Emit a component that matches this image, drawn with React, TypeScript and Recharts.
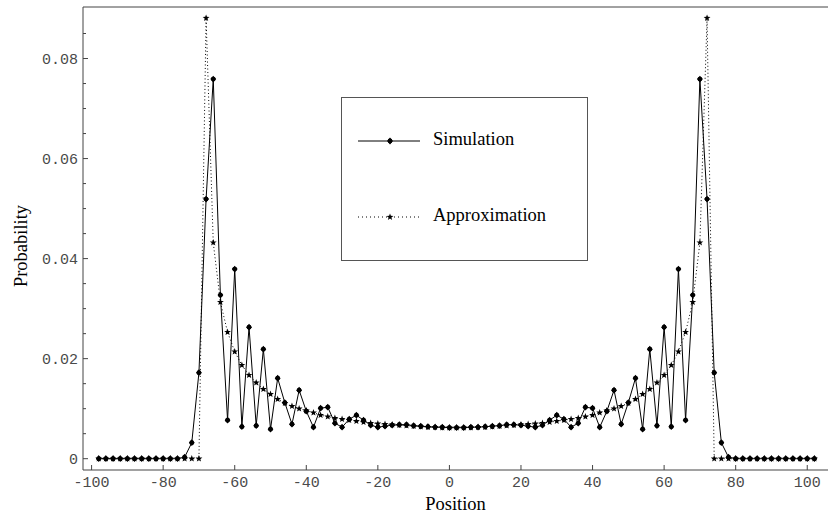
import React from 'react';
import { LineChart, Line, XAxis, YAxis, Legend, ReferenceLine } from 'recharts';

const positions = [
  -98, -96, -94, -92, -90, -88, -86, -84, -82, -80, -78, -76, -74, -72, -70, -68, -66, -64, -62, -60,
  -58, -56, -54, -52, -50, -48, -46, -44, -42, -40, -38, -36, -34, -32, -30, -28, -26, -24, -22, -20,
  -18, -16, -14, -12, -10, -8, -6, -4, -2, 0, 2, 4, 6, 8, 10, 12, 14, 16, 18, 20,
  22, 24, 26, 28, 30, 32, 34, 36, 38, 40, 42, 44, 46, 48, 50, 52, 54, 56, 58, 60,
  62, 64, 66, 68, 70, 72, 74, 76, 78, 80, 82, 84, 86, 88, 90, 92, 94, 96, 98, 100, 102,
];

const simulation = [
  0, 0, 0, 0, 0, 0, 0, 0, 0, 0, 0, 0,
  0.0003, 0.0032, 0.0172, 0.0519, 0.0759, 0.0327, 0.0077, 0.0379, 0.0064, 0.0263,
  0.0066, 0.0219, 0.0059, 0.0161, 0.0112, 0.0069, 0.0137, 0.0095, 0.0063, 0.0101,
  0.0103, 0.0071, 0.0063, 0.0079, 0.0087, 0.0077, 0.0067, 0.0063, 0.0065, 0.0067,
  0.0068, 0.0068, 0.0066, 0.0065, 0.0064, 0.0063, 0.0063, 0.0062, 0.0062,
  0.0062, 0.0063, 0.0063, 0.0064, 0.0065, 0.0066, 0.0068, 0.0068, 0.0067, 0.0065,
  0.0063, 0.0067, 0.0077, 0.0087, 0.0079, 0.0063, 0.0071, 0.0103, 0.0101, 0.0063,
  0.0095, 0.0137, 0.0069, 0.0112, 0.0161, 0.0059, 0.0219, 0.0066, 0.0263, 0.0064,
  0.0379, 0.0077, 0.0327, 0.0759, 0.0519, 0.0172, 0.0032, 0.0003,
  0, 0, 0, 0, 0, 0, 0, 0, 0, 0, 0, 0,
];

const approximation = [
  0, 0, 0, 0, 0, 0, 0, 0, 0, 0, 0, 0, 0, 0, 0,
  0.0881, 0.0432, 0.0313, 0.0253, 0.0214, 0.0187, 0.0167, 0.0152, 0.0139, 0.0129,
  0.0119, 0.0111, 0.0105, 0.01, 0.0096, 0.0092, 0.0087, 0.0084, 0.0081, 0.0079,
  0.0077, 0.0075, 0.0073, 0.0071, 0.007, 0.0069, 0.0068, 0.0067, 0.0066, 0.0065,
  0.0064, 0.0063, 0.0063, 0.0062, 0.0062, 0.0062,
  0.0062, 0.0062, 0.0063, 0.0063, 0.0064, 0.0065, 0.0066, 0.0067, 0.0068, 0.0069,
  0.007, 0.0071, 0.0073, 0.0075, 0.0077, 0.0079, 0.0081, 0.0084, 0.0087, 0.0092,
  0.0096, 0.01, 0.0105, 0.0111, 0.0119, 0.0129, 0.0139, 0.0152, 0.0167, 0.0187,
  0.0214, 0.0253, 0.0313, 0.0432, 0.0881,
  0, 0, 0, 0, 0, 0, 0, 0, 0, 0, 0, 0, 0, 0, 0,
];

const xTicks = [-100, -80, -60, -40, -20, 0, 20, 40, 60, 80, 100];
const yTicks = [0, 0.005, 0.01, 0.015, 0.02, 0.025, 0.03, 0.035, 0.04, 0.045, 0.05, 0.055, 0.06, 0.065, 0.07, 0.075, 0.08, 0.085];
const yMajorTicks = [0, 0.02, 0.04, 0.06, 0.08];
const xDomain: [number, number] = [-102.4, 105.8];
const yDomain: [number, number] = [-0.00226, 0.0903];

const data = positions.map((p, i) => ({ position: p, simulation: simulation[i], approximation: approximation[i] }));

const MONO = '"Liberation Mono", "Courier New", monospace';
const SERIF = '"Liberation Serif", "Times New Roman", serif';
const AXIS = '#444';
const LABEL = '#4a4a4a';

function starPath(cx: number, cy: number, R: number, r: number) {
  let d = '';
  for (let k = 0; k < 10; k++) {
    const rad = k % 2 === 0 ? R : r;
    const a = -Math.PI / 2 + (k * Math.PI) / 5;
    d += (k === 0 ? 'M' : 'L') + (cx + rad * Math.cos(a)).toFixed(2) + ',' + (cy + rad * Math.sin(a)).toFixed(2);
  }
  return d + 'Z';
}

function diamondMarker(cx: number, cy: number, key?: any) {
  return (
    <g key={key}>
      <path d={`M${cx},${cy - 3.4}L${cx + 2.9},${cy}L${cx},${cy + 3.4}L${cx - 2.9},${cy}Z`} fill="#000" />
      <circle cx={cx} cy={cy} r={2.4} fill="#000" />
    </g>
  );
}

function starMarker(cx: number, cy: number, key?: any) {
  return <path key={key} d={starPath(cx, cy, 3.6, 1.5)} fill="#000" />;
}

const SimDot = (props: any) => {
  const { cx, cy, index } = props;
  if (cx == null || cy == null) return <g key={`s-${index}`} />;
  return diamondMarker(cx, cy, `s-${index}`);
};

const ApproxDot = (props: any) => {
  const { cx, cy, index } = props;
  if (cx == null || cy == null) return <g key={`a-${index}`} />;
  return starMarker(cx, cy, `a-${index}`);
};

const YTick = (props: any) => {
  const { x, y, payload } = props;
  const v = payload.value;
  const major = yMajorTicks.some((m) => Math.abs(m - v) < 1e-9);
  return (
    <g>
      <line x1={x} y1={y} x2={x + (major ? 5 : 3)} y2={y} stroke={AXIS} strokeWidth={1} />
      {major && (
        <text x={x - 5} y={y + 5} textAnchor="end" fontFamily={MONO} fontSize={15} fill={LABEL}>
          {v === 0 ? '0' : v.toFixed(2)}
        </text>
      )}
    </g>
  );
};

const XTick = (props: any) => {
  const { x, y, payload } = props;
  return (
    <g>
      <line x1={x} y1={y} x2={x} y2={y - 5} stroke={AXIS} strokeWidth={1} />
      <text x={x} y={y + 17} textAnchor="middle" fontFamily={MONO} fontSize={15} fill={LABEL}>
        {String(payload.value)}
      </text>
    </g>
  );
};

const LegendBox = () => (
  <svg width={247} height={164} style={{ display: 'block' }}>
    <rect x={0.5} y={0.5} width={246} height={163} fill="#fff" stroke="#555" strokeWidth={1} />
    <line x1={17} y1={44} x2={79} y2={44} stroke="#000" strokeWidth={1} />
    {diamondMarker(49, 44)}
    <text x={92} y={47.5} fontFamily={SERIF} fontSize={18.5} fill="#000">Simulation</text>
    <line x1={17} y1={120} x2={79} y2={120} stroke="#000" strokeWidth={1} strokeDasharray="1 3" />
    {starMarker(49, 120)}
    <text x={92} y={123.5} fontFamily={SERIF} fontSize={18.5} fill="#000">Approximation</text>
  </svg>
);

export default function App() {
  return (
    <div style={{ position: 'absolute', left: 0, top: 0, width: 828, height: 516, background: '#fff' }}>
      <LineChart width={828} height={516} data={data} margin={{ top: 7, right: 0, bottom: 0, left: 0 }}>
        <XAxis
          dataKey="position"
          type="number"
          domain={xDomain}
          allowDataOverflow
          ticks={xTicks}
          interval={0}
          height={46}
          tickSize={0}
          tickMargin={0}
          tickLine={false}
          tick={<XTick />}
          axisLine={{ stroke: AXIS, strokeWidth: 1 }}
          label={{
            content: (p: any) => {
              const vb = p.viewBox || {};
              return (
                <text x={vb.x + vb.width / 2} y={510} textAnchor="middle" fontFamily={SERIF} fontSize={18.5} fill="#000">
                  Position
                </text>
              );
            },
          }}
        />
        <YAxis
          type="number"
          domain={yDomain}
          allowDataOverflow
          ticks={yTicks}
          interval={0}
          width={83}
          tickSize={0}
          tickMargin={0}
          tickLine={false}
          tick={<YTick />}
          axisLine={{ stroke: AXIS, strokeWidth: 1 }}
          label={{
            content: () => (
              <text
                x={26.5}
                y={246}
                transform="rotate(-90, 26.5, 246)"
                textAnchor="middle"
                fontFamily={SERIF}
                fontSize={18.5}
                fill="#000"
              >
                Probability
              </text>
            ),
          }}
        />
        <ReferenceLine y={yDomain[1]} stroke={AXIS} strokeWidth={1} />
        <Line
          type="linear"
          dataKey="approximation"
          stroke="#000"
          strokeWidth={1}
          strokeDasharray="1 2.5"
          dot={ApproxDot}
          activeDot={false}
          isAnimationActive={false}
        />
        <Line
          type="linear"
          dataKey="simulation"
          stroke="#000"
          strokeWidth={1}
          dot={SimDot}
          activeDot={false}
          isAnimationActive={false}
        />
        <Legend
          layout="horizontal"
          verticalAlign="middle"
          align="center"
          content={() => <LegendBox />}
          wrapperStyle={{ left: 341, top: 97, width: 247, height: 164 }}
        />
      </LineChart>
    </div>
  );
}
